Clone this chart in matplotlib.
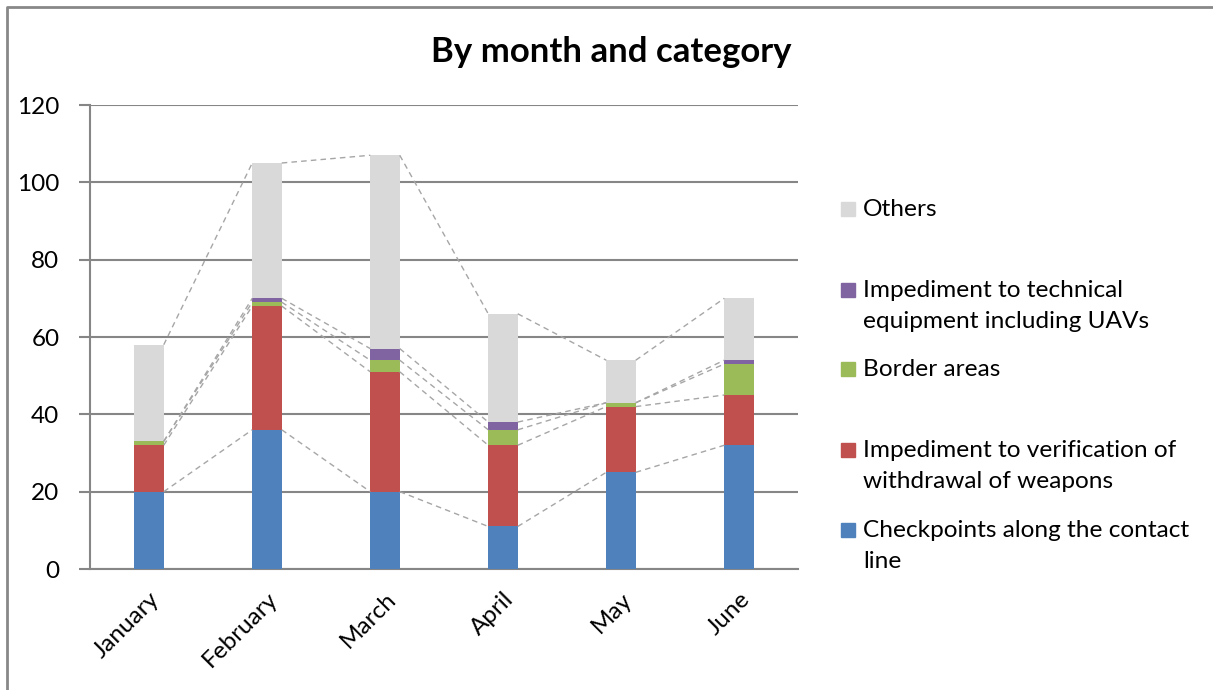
import matplotlib
matplotlib.use("Agg")
import matplotlib.pyplot as plt
from matplotlib.patches import Rectangle
from matplotlib.lines import Line2D
import numpy as np

plt.rcParams['font.family'] = ['Lato', 'DejaVu Sans']

months = ["January", "February", "March", "April", "May", "June"]
checkpoints = [20, 36, 20, 11, 25, 32]
weapons = [12, 32, 31, 21, 17, 13]
border = [1, 1, 3, 4, 1, 8]
uav = [0, 1, 3, 2, 0, 1]
others = [25, 35, 50, 28, 11, 16]

legend_labels = ["Checkpoints along the contact\nline",
                 "Impediment to verification of\nwithdrawal of weapons",
                 "Border areas",
                 "Impediment to technical\nequipment including UAVs",
                 "Others"]
colors = ["#4F81BD", "#C0504D", "#9BBB59", "#8064A2", "#D9D9D9"]
yticks = [0, 20, 40, 60, 80, 100, 120]

W, H = 1213, 690
fig = plt.figure(figsize=(W / 100, H / 100), dpi=100)
ax = fig.add_axes([90 / W, 1 - 569 / H, (798 - 90) / W, (569 - 105) / H])

x = np.arange(len(months))
bw = 0.25
data = [checkpoints, weapons, border, uav, others]
bottom = np.zeros(len(months))
tops = []
for vals, c in zip(data, colors):
    vals = np.array(vals, dtype=float)
    ax.bar(x, vals, bw, bottom=bottom, color=c, zorder=3, linewidth=0)
    bottom = bottom + vals
    tops.append(bottom.copy())

# series lines
for t in tops:
    for i in range(len(months) - 1):
        ax.plot([x[i] + bw / 2, x[i + 1] - bw / 2], [t[i], t[i + 1]],
                color="#A6A6A6", lw=1.0, ls=(0, (4, 3)), zorder=4)

ax.set_xlim(-0.5, len(months) - 0.5)
ax.set_ylim(0, 120)
ax.set_yticks(yticks)
ax.set_yticklabels([str(v) for v in yticks], fontsize=17.5)
ax.set_xticks(x)
ax.set_xticklabels(months, fontsize=17.5, rotation=45, ha='right',
                   rotation_mode='anchor')
ax.tick_params(axis='x', length=0, pad=14)
ax.tick_params(axis='y', length=8, width=1.5, color="#868686", pad=14)
ax.grid(axis='y', color="#868686", lw=1.5, zorder=0)
ax.set_axisbelow(True)
for s in ['top', 'right']:
    ax.spines[s].set_visible(False)
for s in ['left', 'bottom']:
    ax.spines[s].set_color("#868686")
    ax.spines[s].set_linewidth(1.5)

fig.text(611 / W, 1 - 52 / H, "By month and category", fontsize=25,
         fontweight='bold', ha='center', va='center')

# legend (reversed order, manual placement)
leg_y = [546, 466, 369, 306, 209]  # centers of text blocks (px)
sq_y = [530, 450, 369, 290, 209]
for lab, c, ty, sy in zip(legend_labels, colors, leg_y, sq_y):
    fig.add_artist(Rectangle((841 / W, 1 - (sy + 7) / H), 14 / W, 14 / H,
                             transform=fig.transFigure, color=c))
    fig.text(863 / W, 1 - ty / H, lab, fontsize=17.6, ha='left', va='center',
             linespacing=1.55)

# chart border
fig.add_artist(Line2D([7 / W, 7 / W, 1.0], [0.0, 1 - 7 / H, 1 - 7 / H],
                      transform=fig.transFigure, color="#888888", lw=2))

fig.savefig("out.png", dpi=100)
